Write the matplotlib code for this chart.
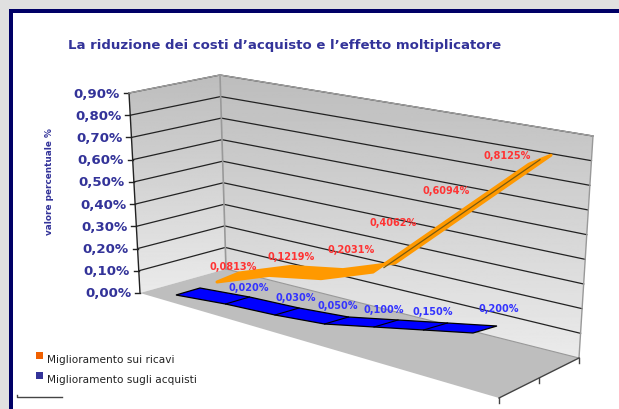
#!/usr/bin/env python3
# -*- coding: utf-8 -*-
import matplotlib
matplotlib.use('Agg')
import matplotlib.pyplot as plt
import numpy as np
from matplotlib.patches import Polygon, Rectangle

# data
ticks = [0.0, 0.1, 0.2, 0.3, 0.4, 0.5, 0.6, 0.7, 0.8, 0.9]
tick_labels = ['0,00%', '0,10%', '0,20%', '0,30%', '0,40%',
               '0,50%', '0,60%', '0,70%', '0,80%', '0,90%']
ricavi = [0.0, 0.0813, 0.1219, 0.2031, 0.4062, 0.6094, 0.8125]
acquisti = [0.0, 0.020, 0.030, 0.050, 0.100, 0.150, 0.200]
ricavi_labels = ['0,0813%', '0,1219%', '0,2031%', '0,4062%', '0,6094%', '0,8125%']
acquisti_labels = ['0,020%', '0,030%', '0,050%', '0,100%', '0,150%', '0,200%']

# label places, pixels
ricavi_pos = [(233, 267), (291, 257), (351, 250), (393, 223), (446, 191), (507, 156)]
acquisti_pos = [(249, 288), (296, 298), (338, 306), (384, 310), (433, 312), (499, 309)]

NAVY = '#333399'

fig, ax = plt.subplots(figsize=(6.19, 4.10), dpi=100)
ax.set_position([0, 0, 1, 1])
ax.set_xlim(0, 619)
ax.set_ylim(410, 0)
ax.axis('off')
fig.patch.set_facecolor('#E0E0E0')

# page frame
ax.add_patch(Rectangle((9, 10), 620, 410, fc='#000066', ec='none', zorder=0))
ax.add_patch(Rectangle((13, 14), 620, 410, fc='white', ec='none', zorder=0))

# vertical edges of the walls: (x, y) at value 0 and at 0.9
LEFT = ((140, 294), (129, 94))
BACK = ((226, 270), (220, 76))
RIGHT = ((579, 359), (593, 137))
FRONT = (499, 399)


def wall(edge, v):
    t = v / 0.9
    return (edge[0][0] + t * (edge[1][0] - edge[0][0]),
            edge[0][1] + t * (edge[1][1] - edge[0][1]))


# walls with vertical gradient
grad = np.linspace(0.74, 0.92, 256).reshape(-1, 1)
for a, b, top, bot in [(LEFT, BACK, 76, 294), (BACK, RIGHT, 76, 359)]:
    poly = Polygon([a[0], a[1], b[1], b[0]], closed=True, fc='none', ec='none')
    ax.add_patch(poly)
    im = ax.imshow(grad, cmap='gray', vmin=0, vmax=1, extent=(a[0][0] - 20, b[0][0] + 20, bot, top),
                   aspect='auto', zorder=1)
    im.set_clip_path(poly)
ax.set_xlim(0, 619)
ax.set_ylim(410, 0)

# floor
ax.add_patch(Polygon([LEFT[0], BACK[0], RIGHT[0], FRONT], closed=True,
                     fc='#BEBEBE', ec='none', zorder=1))

# gridlines and ticks
for v, lab in zip(ticks, tick_labels):
    l, b, r = wall(LEFT, v), wall(BACK, v), wall(RIGHT, v)
    if v > 0:
        ax.plot([l[0], b[0], r[0]], [l[1], b[1], r[1]], color='#222222', lw=0.9, zorder=2)
    ax.plot([l[0] - 5, l[0]], [l[1], l[1]], color='#222222', lw=1, zorder=2)
    ax.text(l[0] - 9, l[1], lab, ha='right', va='center', fontsize=9.6,
            fontweight='bold', color=NAVY, zorder=5)

# wall edges
ax.plot([LEFT[0][0], LEFT[1][0]], [LEFT[0][1], LEFT[1][1]], color='#222222', lw=1, zorder=3)
ax.plot([BACK[0][0], BACK[1][0]], [BACK[0][1], BACK[1][1]], color='#999999', lw=1.2, zorder=3)
ax.plot([RIGHT[0][0], RIGHT[1][0]], [RIGHT[0][1], RIGHT[1][1]], color='#999999', lw=1, zorder=3)
ax.plot([LEFT[1][0], BACK[1][0], RIGHT[1][0]], [LEFT[1][1], BACK[1][1], RIGHT[1][1]],
        color='#A0A0A0', lw=1, zorder=3)
ax.plot([BACK[0][0], RIGHT[0][0]], [BACK[0][1], RIGHT[0][1]], color='#999999', lw=0.8, zorder=3)

# x axis at the bottom right
ax.plot([FRONT[0], RIGHT[0][0]], [FRONT[1], RIGHT[0][1]], color='#444444', lw=1, zorder=3)
for t in [0.0, 0.5, 1.0]:
    x = FRONT[0] + t * (RIGHT[0][0] - FRONT[0])
    y = FRONT[1] + t * (RIGHT[0][1] - FRONT[1])
    ax.plot([x, x], [y, y + 5], color='#444444', lw=1, zorder=3)


# series sit at their own depth, so each has its own projection
def project(values, x0, dx, y0, dy, k):
    i = np.arange(len(values))
    return x0 + dx * i, y0 + dy * i - k * np.array(values)


# orange ribbon
ox, oy = project(ricavi, 228, 52, 278.5, 13, 241)
vec = np.array([22, -9])
ring = np.r_[np.c_[ox, oy] - vec / 2, (np.c_[ox, oy] + vec / 2)[::-1]]
ax.add_patch(Polygon(ring, closed=True, fc='#FF9900', ec='#FF9900', lw=2.2,
                     joinstyle='round', zorder=4))
ax.plot(ox[3:], oy[3:], color='#7A5A10', lw=0.9, zorder=4)

# blue ribbon
bx, by = project(acquisti, 176, 49.5, 296, 13, 200)
vec = np.array([24, -7])
ring = np.r_[np.c_[bx, by], (np.c_[bx, by] + vec)[::-1]]
ax.add_patch(Polygon(ring, closed=True, fc='#0000FF', ec='black', lw=0.9, zorder=4))
for x, y in zip(bx[1:-1], by[1:-1]):
    ax.plot([x, x + vec[0]], [y, y + vec[1]], color='black', lw=0.8, zorder=4)

# data labels
for (x, y), lab in zip(ricavi_pos, ricavi_labels):
    ax.text(x, y, lab, ha='center', va='center', fontsize=7, fontweight='bold',
            color='#FF3333', zorder=6)
for (x, y), lab in zip(acquisti_pos, acquisti_labels):
    ax.text(x, y, lab, ha='center', va='center', fontsize=7, fontweight='bold',
            color='#3333FF', zorder=6)

# titles
ax.text(285, 45, 'La riduzione dei costi d’acquisto e l’effetto moltiplicatore',
        ha='center', va='center', fontsize=9.5, fontweight='bold', color=NAVY)
ax.text(49, 182, 'valore percentuale %', rotation=90, ha='center', va='center',
        fontsize=6.4, fontweight='bold', color=NAVY)

# legend
ax.add_patch(Rectangle((36, 353), 6.5, 6.5, fc='#F06000', ec='none'))
ax.add_patch(Rectangle((36, 373), 6.5, 6.5, fc=NAVY, ec='none'))
ax.text(47, 360, 'Miglioramento sui ricavi', ha='left', va='center', fontsize=7.6, color='#222222')
ax.text(47, 380, 'Miglioramento sugli acquisti', ha='left', va='center', fontsize=7.6, color='#222222')

# stray line at the bottom left
ax.plot([17, 17, 62], [395.5, 398, 398], color='#444444', lw=1)

plt.savefig('out.png', dpi=100, facecolor=fig.get_facecolor())
